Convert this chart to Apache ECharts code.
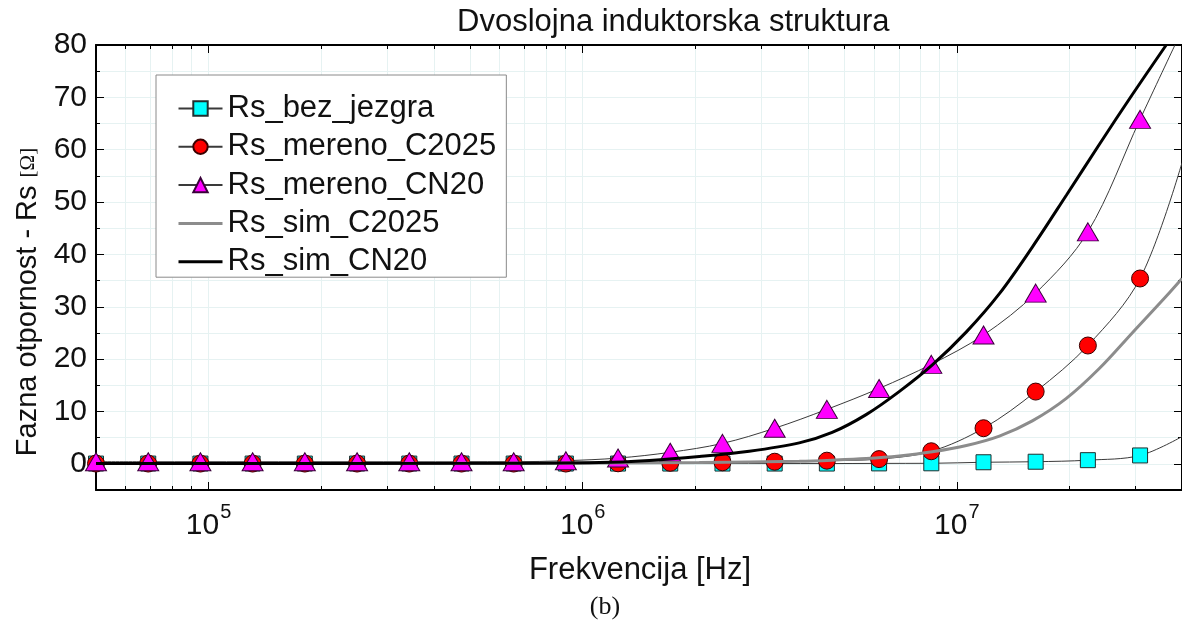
<!DOCTYPE html>
<html>
<head>
<meta charset="utf-8">
<script src="https://cdn.jsdelivr.net/npm/echarts@6/dist/echarts.min.js"></script>
<style>
  html, body { margin: 0; padding: 0; background: #ffffff; }
  #chart { width: 1182px; height: 625px; }
</style>
</head>
<body>
<div id="chart"></div>
<script>
// Measurement frequencies [Hz]
const freqHz = [50000, 68960, 95080, 131100, 180800, 249400, 343900, 474300, 653900, 901600,
  1243000, 1714000, 2364000, 3260000, 4495000, 6199000, 8548000, 11790000, 16250000, 22410000, 30900000];

// Measured series resistance [Ohm]
const rsBezJezgra = [0.05, 0.05, 0.05, 0.05, 0.05, 0.05, 0.05, 0.05, 0.05, 0.05,
  0.05, 0.05, 0.05, 0.05, 0.05, 0.08, 0.1, 0.3, 0.4, 0.7, 1.6];
const rsMerenoC2025 = [0.05, 0.05, 0.05, 0.05, 0.05, 0.05, 0.05, 0.05, 0.05, 0.05,
  0.1, 0.2, 0.3, 0.4, 0.6, 0.9, 2.4, 6.8, 13.8, 22.6, 35.4];
const rsMerenoCN20 = [0.4, 0.4, 0.4, 0.4, 0.4, 0.4, 0.4, 0.4, 0.4, 0.6,
  1.1, 2.2, 3.9, 6.8, 10.4, 14.4, 19.0, 24.6, 32.6, 44.3, 65.8];

// Continuation of the smoothed measurement curves past the last sample [freq, Ohm]
const tailBezJezgra = [[40000000, 5.2]];
const tailC2025 = [[40000000, 57.5]];
const tailCN20 = [[38300000, 80]];

// Simulated curves
const simFreqC2025 = [50000, 500000, 1109000, 2050000, 3792000, 4644000, 5723000, 7014000, 8605000,
  10610000, 13000000, 15920000, 19630000, 24040000, 29440000, 36290000, 40000000];
const simC2025 = [0.05, 0.1, 0.15, 0.25, 0.5, 0.7, 1.0, 1.5, 2.3,
  3.5, 5.3, 8.2, 12.5, 18.2, 25.0, 32.0, 35.4];
const simFreqCN20 = [50000, 500000, 1109000, 1508000, 2050000, 2788000, 3792000, 4644000, 5723000,
  7014000, 8605000, 10610000, 13000000, 15920000, 19630000, 24040000, 29440000, 36290000];
const simCN20 = [0.05, 0.1, 0.25, 0.65, 1.4, 2.4, 4.0, 6.0, 9.4,
  13.8, 18.9, 25.2, 32.5, 41.4, 51.3, 61.0, 70.5, 80];

// Axis ticks
const xMajorTicks = [100000, 1000000, 10000000];
const xMinorTicks = [60000, 70000, 80000, 90000,
  200000, 300000, 400000, 500000, 600000, 700000, 800000, 900000,
  2000000, 3000000, 4000000, 5000000, 6000000, 7000000, 8000000, 9000000,
  20000000, 30000000];
const yMajorTicks = [0, 10, 20, 30, 40, 50, 60, 70, 80];

const FONT = 'Liberation Sans';
const GRID_COLOR = '#e6f2f2';
const SMOOTH = 0.34;

function pairs(xs, ys) { return xs.map((x, i) => [x, ys[i]]); }
function withTail(xs, ys, tail) {
  return pairs(xs, ys).concat(tail.map(p => ({ value: p, symbol: 'none' })));
}

const xRange = { type: 'log', logBase: 10, min: 50000, max: 40000000 };
const yRange = { type: 'value', min: -5, max: 80 };

function xAxisDef(pos, ticks, len, showLine, showLabel) {
  return Object.assign({}, xRange, {
    position: pos,
    axisLine: { show: showLine, onZero: false, lineStyle: { color: '#000', width: 2 } },
    axisTick: { show: true, inside: true, length: len, customValues: ticks, lineStyle: { color: '#000', width: 1 } },
    axisLabel: showLabel ? {
      customValues: ticks, margin: 12,
      formatter: v => '{b|10}{s|' + Math.round(Math.log10(v)) + '}',
      rich: {
        b: { fontFamily: FONT, fontSize: 30, color: '#111' },
        s: { fontFamily: FONT, fontSize: 20, color: '#111', padding: [0, 0, 28, 1] }
      }
    } : { show: false },
    splitLine: { show: true, lineStyle: { color: GRID_COLOR, width: 1 } },
    minorTick: { show: false }
  });
}

function yAxisDef(pos, mode) {
  const base = Object.assign({}, yRange, { position: pos });
  if (mode === 'fine') {
    return Object.assign(base, {
      interval: 5,
      axisLine: { show: true, onZero: false, lineStyle: { color: '#000', width: 2 } },
      axisTick: { show: true, inside: true, length: 4, lineStyle: { color: '#000' } },
      axisLabel: { show: false },
      splitLine: { show: true, lineStyle: { color: GRID_COLOR, width: 1 } }
    });
  }
  return Object.assign(base, {
    axisLine: { show: false },
    axisTick: { show: true, inside: true, length: 8, customValues: yMajorTicks, lineStyle: { color: '#000' } },
    axisLabel: pos === 'left' ? {
      customValues: yMajorTicks, margin: 9,
      fontFamily: FONT, fontSize: 30, color: '#111'
    } : { show: false },
    splitLine: { show: false }
  });
}

const chart = echarts.init(document.getElementById('chart'), null, { renderer: 'canvas' });

chart.setOption({
  animation: false,
  backgroundColor: '#ffffff',
  title: {
    text: 'Dvoslojna induktorska struktura',
    left: 452, top: 2,
    textStyle: { fontFamily: FONT, fontSize: 31, fontWeight: 'normal', color: '#111' }
  },
  grid: { left: 96, right: -1, top: 45, bottom: 135, containLabel: false },
  xAxis: [
    xAxisDef('bottom', xMajorTicks, 8, true, true),
    xAxisDef('bottom', xMinorTicks, 4, false, false),
    xAxisDef('top', xMajorTicks, 8, true, false),
    xAxisDef('top', xMinorTicks, 4, false, false)
  ],
  yAxis: [
    yAxisDef('left', 'fine'),
    yAxisDef('left', 'major'),
    yAxisDef('right', 'fine'),
    yAxisDef('right', 'major')
  ],
  legend: {
    orient: 'vertical',
    left: 156, top: 75,
    padding: [18, 10, 0, 21],
    itemGap: 7.3,
    itemWidth: 44,
    itemHeight: 18,
    backgroundColor: '#ffffff',
    borderColor: '#8a8a8a',
    borderWidth: 1,
    borderRadius: 0,
    textStyle: { fontFamily: FONT, fontSize: 31, color: '#111', lineHeight: 31 },
    data: [
      'Rs_bez_jezgra', 'Rs_mereno_C2025', 'Rs_mereno_CN20',
      { name: 'Rs_sim_C2025', itemStyle: { opacity: 0 }, lineStyle: { width: 3 } },
      { name: 'Rs_sim_CN20', itemStyle: { opacity: 0 }, lineStyle: { width: 3 } }
    ]
  },
  graphic: [
    {
      type: 'text', x: 28, y: 302, rotation: Math.PI / 2,
      style: {
        text: '{a|Fazna otpornost - Rs }{b|[Ω]}',
        align: 'center', verticalAlign: 'middle',
        rich: {
          a: { fontFamily: FONT, fontSize: 29, fill: '#111' },
          b: { fontFamily: 'Liberation Serif', fontSize: 21, fill: '#111' }
        }
      }
    },
    {
      type: 'text', x: 640, y: 570,
      style: { text: 'Frekvencija [Hz]', font: '31px "Liberation Sans"', fill: '#111', align: 'center', verticalAlign: 'middle' }
    },
    {
      type: 'text', x: 605, y: 607,
      style: { text: '(b)', font: '26px "Liberation Serif"', fill: '#111', align: 'center', verticalAlign: 'middle' }
    }
  ],
  series: [
    {
      name: 'Rs_bez_jezgra', type: 'line', smooth: SMOOTH,
      data: withTail(freqHz, rsBezJezgra, tailBezJezgra),
      symbol: 'rect', symbolSize: 15,
      itemStyle: { color: '#00ffff', borderColor: '#1f2f2f', borderWidth: 1 },
      lineStyle: { color: '#3a3a3a', width: 1 },
      emphasis: { disabled: true }, z: 2
    },
    {
      name: 'Rs_mereno_C2025', type: 'line', smooth: SMOOTH,
      data: withTail(freqHz, rsMerenoC2025, tailC2025),
      symbol: 'circle', symbolSize: 17,
      itemStyle: { color: '#ff0000', borderColor: '#3a0000', borderWidth: 1 },
      lineStyle: { color: '#3a3a3a', width: 1 },
      emphasis: { disabled: true }, z: 2
    },
    {
      name: 'Rs_mereno_CN20', type: 'line', smooth: SMOOTH,
      data: withTail(freqHz, rsMerenoCN20, tailCN20),
      symbol: 'triangle', symbolSize: [21, 18],
      itemStyle: { color: '#ff00ff', borderColor: '#3a003a', borderWidth: 1 },
      lineStyle: { color: '#3a3a3a', width: 1 },
      emphasis: { disabled: true }, z: 2
    },
    {
      name: 'Rs_sim_C2025', type: 'line', smooth: SMOOTH, symbol: 'none',
      data: pairs(simFreqC2025, simC2025),
      itemStyle: { color: '#8c8c8c' },
      lineStyle: { color: '#8c8c8c', width: 3 },
      emphasis: { disabled: true }, z: 3
    },
    {
      name: 'Rs_sim_CN20', type: 'line', smooth: SMOOTH, symbol: 'none',
      data: pairs(simFreqCN20, simCN20),
      itemStyle: { color: '#000000' },
      lineStyle: { color: '#000000', width: 3 },
      emphasis: { disabled: true }, z: 3
    }
  ]
});
</script>
</body>
</html>
